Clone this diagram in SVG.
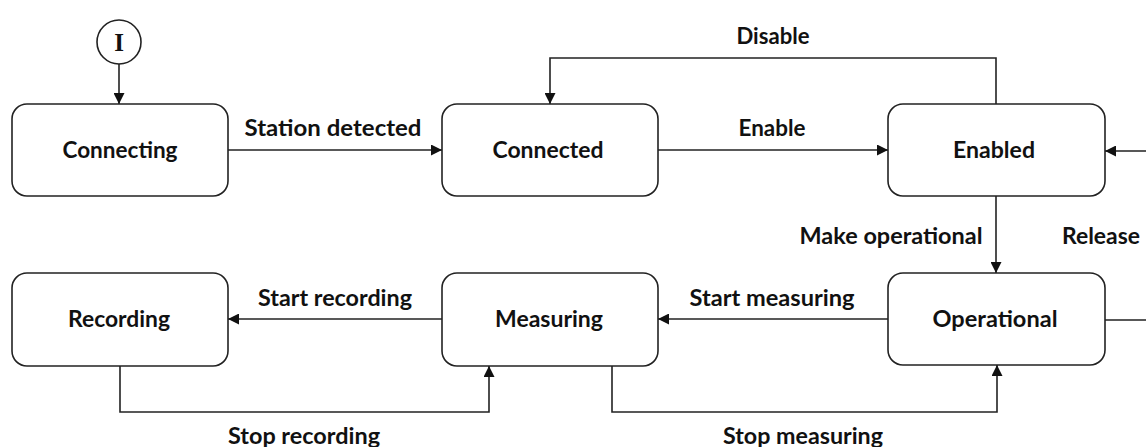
<svg xmlns="http://www.w3.org/2000/svg" width="1146" height="447" viewBox="0 0 1146 447">
<style>
.box{fill:#fff;stroke:#222;stroke-width:1.6}
.lbl{font-family:Lato,"Noto Sans",sans-serif;font-weight:bold;font-size:22px;fill:#111;text-anchor:middle}
.edge{fill:none;stroke:#222;stroke-width:1.6}
</style>
<defs>
<marker id="arr" viewBox="0 0 10 10" refX="10" refY="5" markerWidth="11" markerHeight="11" markerUnits="userSpaceOnUse" orient="auto">
<path d="M0,0 L10,5 L0,10 z" fill="#111"/>
</marker>
</defs>
<rect width="1146" height="447" fill="#fff"/>
<g id="connectors">
<path class="edge" d="M119,64 V104" marker-end="url(#arr)"/>
<path class="edge" d="M228,150 H442" marker-end="url(#arr)"/>
<path class="edge" d="M658,150 H888" marker-end="url(#arr)"/>
<path class="edge" d="M996,104 V58 H550 V104" marker-end="url(#arr)"/>
<path class="edge" d="M996,196 V273" marker-end="url(#arr)"/>
<path class="edge" d="M1105,320 H1160 V151 H1105" marker-end="url(#arr)"/>
<path class="edge" d="M888,319 H658" marker-end="url(#arr)"/>
<path class="edge" d="M442,319 H228" marker-end="url(#arr)"/>
<path class="edge" d="M120,366 V412 H489 V366" marker-end="url(#arr)"/>
<path class="edge" d="M612,366 V412 H997 V365" marker-end="url(#arr)"/>
<text class="lbl" x="333" y="136" textLength="177" lengthAdjust="spacingAndGlyphs">Station detected</text>
<text class="lbl" x="772" y="136" textLength="67" lengthAdjust="spacingAndGlyphs">Enable</text>
<text class="lbl" x="773" y="44" textLength="73" lengthAdjust="spacingAndGlyphs">Disable</text>
<text class="lbl" x="891" y="244" textLength="183" lengthAdjust="spacingAndGlyphs">Make operational</text>
<text class="lbl" x="1101" y="244" textLength="78" lengthAdjust="spacingAndGlyphs">Release</text>
<text class="lbl" x="772" y="306" textLength="165" lengthAdjust="spacingAndGlyphs">Start measuring</text>
<text class="lbl" x="335" y="306" textLength="154" lengthAdjust="spacingAndGlyphs">Start recording</text>
<text class="lbl" x="304" y="444" textLength="152" lengthAdjust="spacingAndGlyphs">Stop recording</text>
<text class="lbl" x="803" y="444" textLength="160" lengthAdjust="spacingAndGlyphs">Stop measuring</text>
</g>
<g id="initial">
<circle cx="119" cy="42" r="22" fill="#fff" stroke="#222" stroke-width="1.6"/>
<text x="119" y="51" font-family="Liberation Serif,serif" font-weight="bold" font-size="25" fill="#111" text-anchor="middle">I</text>
</g>
<g id="connecting"><rect class="box" x="12" y="104" width="216" height="92" rx="15"/><text class="lbl" x="120" y="158" textLength="115" lengthAdjust="spacingAndGlyphs">Connecting</text></g>
<g id="connected"><rect class="box" x="442" y="104" width="216" height="92" rx="15"/><text class="lbl" x="548" y="158" textLength="111" lengthAdjust="spacingAndGlyphs">Connected</text></g>
<g id="enabled"><rect class="box" x="888" y="104" width="217" height="92" rx="15"/><text class="lbl" x="994" y="158" textLength="82" lengthAdjust="spacingAndGlyphs">Enabled</text></g>
<g id="recording"><rect class="box" x="12" y="273" width="216" height="93" rx="15"/><text class="lbl" x="119" y="327" textLength="102" lengthAdjust="spacingAndGlyphs">Recording</text></g>
<g id="measuring"><rect class="box" x="442" y="273" width="216" height="93" rx="15"/><text class="lbl" x="549" y="327" textLength="108" lengthAdjust="spacingAndGlyphs">Measuring</text></g>
<g id="operational"><rect class="box" x="888" y="273" width="217" height="92" rx="15"/><text class="lbl" x="995" y="327" textLength="125" lengthAdjust="spacingAndGlyphs">Operational</text></g>
</svg>
